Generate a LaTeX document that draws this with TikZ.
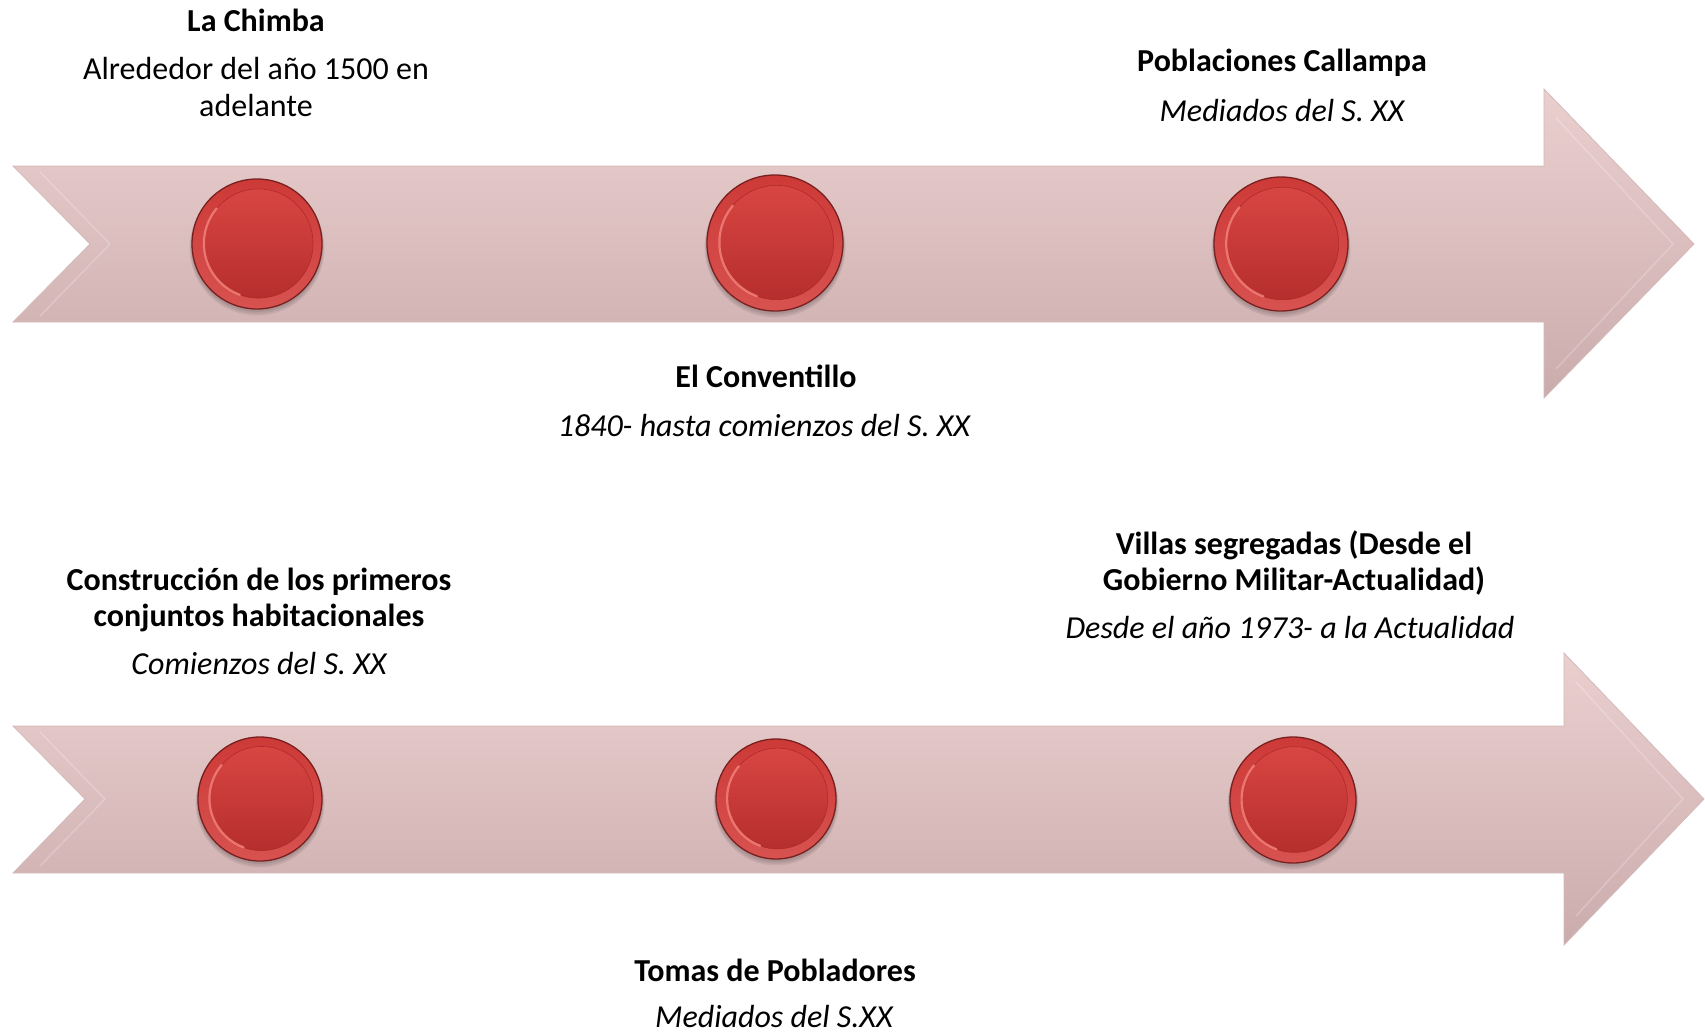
\documentclass[tikz,border=0pt]{standalone}
\usepackage{fontspec}
\setmainfont{Carlito}
\definecolor{bandtop}{RGB}{235,207,207}
\definecolor{bandbot}{RGB}{203,172,173}
\definecolor{bandedge}{RGB}{212,186,186}
\definecolor{btnedge}{RGB}{120,32,32}
\definecolor{ringtop}{RGB}{205,58,55}
\definecolor{ringbot}{RGB}{215,82,80}
\definecolor{facetop}{RGB}{216,70,66}
\definecolor{facebot}{RGB}{182,46,46}
\definecolor{facerim}{RGB}{175,42,42}
\definecolor{rimlight}{RGB}{246,135,130}
\tikzset{
  band/.style={top color=bandtop, bottom color=bandbot, draw=bandedge, line width=0.8pt},
  bevel/.style={draw=white, opacity=0.22, line width=1.5pt, line join=round},
  btn/.style={circle, inner sep=0pt, draw=btnedge, line width=1.3pt, top color=ringtop, bottom color=ringbot},
  face/.style={top color=facetop, bottom color=facebot, draw=facerim, line width=0.6pt},
  rim/.style={draw=rimlight, line width=2.2pt, opacity=0.8, line cap=round},
  title/.style={font=\bfseries\fontsize{32}{35.5}\selectfont, align=center, anchor=base},
  date/.style={font=\itshape\fontsize{32}{35.5}\selectfont, align=center, anchor=base},
  plain/.style={font=\fontsize{32}{36}\selectfont, align=center, anchor=base},
}
\newcommand\tlbutton[4]{%
  \foreach \k in {1,2,3}{\fill[black, opacity=0.07] (#2,#3-1-\k) circle[radius=#4+\k*0.8];}
  \node[btn, minimum size={2*#4pt}] (#1) at (#2,#3) {};
  \path[face] ([shift={(1.5pt,0.5pt)}]#1.center) circle[radius=0.84*#4];
  \draw[rim] ([shift={(1.5pt,0.5pt)}]#1.center) ++(140:0.84*#4) arc[start angle=140, end angle=250, radius=0.84*#4];
}
\begin{document}
\begin{tikzpicture}[x=1pt,y=1pt]
\useasboundingbox (0,0) rectangle (1705,-1033);
\fill[white] (0,0) rectangle (1705,-1033);
% top band
\path[band] (13,-166) -- (1544,-166) -- (1544,-89) -- (1694,-244) -- (1544,-398) -- (1544,-322) -- (13,-322) -- (90,-244) -- cycle;
\draw[bevel] (1556,-118) -- (1673,-244) -- (1556,-369);
\draw[bevel] (40,-172) -- (110,-244) -- (40,-316);
% bottom band
\path[band] (13,-726) -- (1564,-726) -- (1564,-653) -- (1704,-799) -- (1564,-945) -- (1564,-873) -- (13,-873) -- (85,-799) -- cycle;
\draw[bevel] (1576,-682) -- (1683,-799) -- (1576,-916);
\draw[bevel] (40,-732) -- (105,-799) -- (40,-866);
% buttons
\tlbutton{b1}{257}{-244}{65}
\tlbutton{b2}{775}{-243}{68}
\tlbutton{b3}{1281}{-244}{67}
\tlbutton{b4}{260}{-799}{62}
\tlbutton{b5}{776}{-799}{60}
\tlbutton{b6}{1293}{-800}{63}
% texts
\node[title] (t1) at (256,-32) {La Chimba};
\node[plain] (d1) at (256,-116) {Alrededor del año 1500 en\\adelante};
\node[title] (t2) at (766,-387) {El Conventillo};
\node[date] (d2) at (764,-436) {1840- hasta comienzos del S. XX};
\node[title] (t3) at (1282,-72) {Poblaciones Callampa};
\node[date] (d3) at (1282,-121) {Mediados del S. XX};
\node[title] (t4) at (259,-626) {Construcción de los primeros\\conjuntos habitacionales};
\node[date] (d4) at (259,-674) {Comienzos del S. XX};
\node[title] (t5) at (1294,-590) {Villas segregadas (Desde el\\Gobierno Militar-Actualidad)};
\node[date] (d5) at (1290,-638) {Desde el año 1973- a la Actualidad};
\node[title] (t6) at (775,-981) {Tomas de Pobladores};
\node[date] (d6) at (774,-1027) {Mediados del S.XX};
\end{tikzpicture}
\end{document}
